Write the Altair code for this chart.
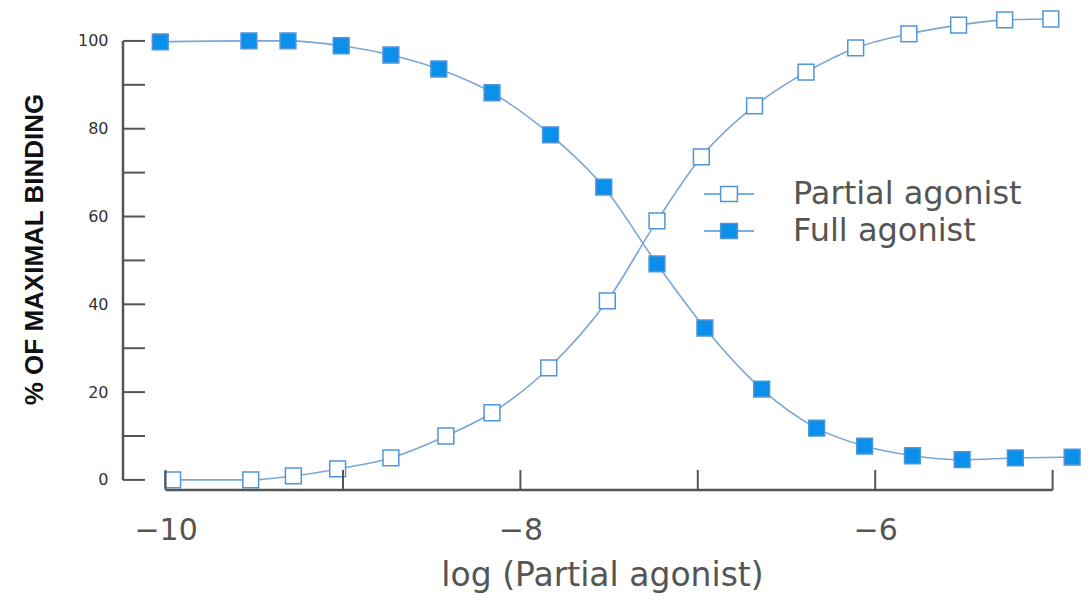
import altair as alt
import pandas as pd

# ---- data ----
partial_x = [-9.96, -9.52, -9.28, -9.03, -8.73, -8.42, -8.16, -7.84, -7.51, -7.23,
             -6.98, -6.68, -6.39, -6.11, -5.81, -5.53, -5.27, -5.01]
partial_y = [0.0, 0.0, 0.9, 2.5, 5.0, 10.0, 15.3, 25.5, 40.8, 59.0,
             73.6, 85.2, 92.9, 98.4, 101.6, 103.6, 104.8, 105.0]
full_x = [-10.03, -9.53, -9.31, -9.01, -8.73, -8.46, -8.16, -7.83, -7.53, -7.23,
          -6.96, -6.64, -6.33, -6.06, -5.79, -5.51, -5.21, -4.89]
full_y = [99.8, 100.0, 100.0, 98.9, 96.8, 93.6, 88.2, 78.6, 66.7, 49.2,
          34.6, 20.7, 11.8, 7.7, 5.5, 4.6, 5.0, 5.2]
series_names = ["Partial agonist", "Full agonist"]

y_ticks = [0, 10, 20, 30, 40, 50, 60, 70, 80, 90, 100]
y_labels = [0, 20, 40, 60, 80, 100]
x_ticks = [-10, -9, -8, -7, -6, -5]
x_labels = [-10, -8, -6]

W, H = 958, 482
BLUE = "#0a8fea"
LINE = "#7aa6d6"
EDGE = "#4f95d8"
AXIS = "#555555"

df = pd.concat([
    pd.DataFrame({"x": partial_x, "y": partial_y, "series": series_names[0]}),
    pd.DataFrame({"x": full_x, "y": full_y, "series": series_names[1]}),
])

xs = alt.Scale(domain=[-10.24, -4.84], nice=False, zero=False)
ys = alt.Scale(domain=[-2.3, 107.5], nice=False, zero=False)

x_enc = alt.X("x:Q", scale=xs,
              axis=alt.Axis(values=x_labels, format="d", domain=False, ticks=False, grid=False,
                            labelFont="DejaVu Sans", labelFontSize=30, labelColor=AXIS,
                            labelPadding=25, title="log (Partial agonist)",
                            titleFont="DejaVu Sans", titleFontSize=33, titleFontWeight="normal",
                            titleColor=AXIS, titlePadding=14))
y_enc = alt.Y("y:Q", scale=ys,
              axis=alt.Axis(values=y_labels, domain=False, ticks=False, grid=False,
                            labelFont="DejaVu Sans", labelFontSize=16, labelColor="#333333",
                            labelPadding=15, title="% OF MAXIMAL BINDING",
                            titleFont="Liberation Sans", titleFontSize=26, titleFontWeight="bold",
                            titleColor="#111111", titlePadding=30))

base = alt.Chart(df)

lines = base.mark_line(interpolate="monotone", color=LINE, strokeWidth=1.6).encode(
    x=x_enc, y=y_enc, detail="series:N")

legend_path = "M-1.25,0L-0.42,0M0.42,0L1.25,0M-0.42,-0.38L0.42,-0.38L0.42,0.38L-0.42,0.38Z"

points = base.mark_square(size=250, stroke=EDGE, strokeWidth=1.5, opacity=1).encode(
    x=alt.X("x:Q", scale=xs),
    y=alt.Y("y:Q", scale=ys),
    fill=alt.Fill("series:N",
                  scale=alt.Scale(domain=series_names, range=["white", BLUE]),
                  legend=alt.Legend(title=None, orient="none", legendX=585, legendY=165,
                                    symbolType=legend_path, symbolSize=1600,
                                    symbolStrokeColor=EDGE, symbolStrokeWidth=1.5,
                                    symbolOpacity=1,
                                    labelFont="DejaVu Sans", labelFontSize=32,
                                    labelColor=AXIS, labelOffset=43, labelLimit=0,
                                    rowPadding=0, padding=0)),
)

yt_df = pd.DataFrame({"v": y_ticks})
y_tick_marks = alt.Chart(yt_df).mark_rule(color=AXIS, strokeWidth=2).encode(
    y=alt.Y("v:Q", scale=ys), x=alt.value(0), x2=alt.value(22))
y_axis_line = alt.Chart(yt_df).mark_rule(color=AXIS, strokeWidth=2.5).encode(
    y=alt.Y("min(v):Q", scale=ys), y2=alt.Y2("max(v):Q"), x=alt.value(0))

xt_df = pd.DataFrame({"v": x_ticks})
x_tick_marks = alt.Chart(xt_df).mark_rule(color=AXIS, strokeWidth=2).encode(
    x=alt.X("v:Q", scale=xs), y=alt.value(H), y2=alt.value(H - 20))
x_axis_line = alt.Chart(xt_df).mark_rule(color=AXIS, strokeWidth=2.5).encode(
    x=alt.X("min(v):Q", scale=xs), x2=alt.X2("max(v):Q"), y=alt.value(H))

chart = alt.layer(
    lines, points, y_axis_line, y_tick_marks, x_axis_line, x_tick_marks
).properties(
    width=W, height=H,
    autosize=alt.AutoSizeParams(type="none"),
    padding={"left": 115, "top": 0, "right": 2, "bottom": 112},
).configure_view(stroke=None).configure_axis(grid=False)

chart.save("out.html", embed_options={"renderer": "svg", "actions": False})
